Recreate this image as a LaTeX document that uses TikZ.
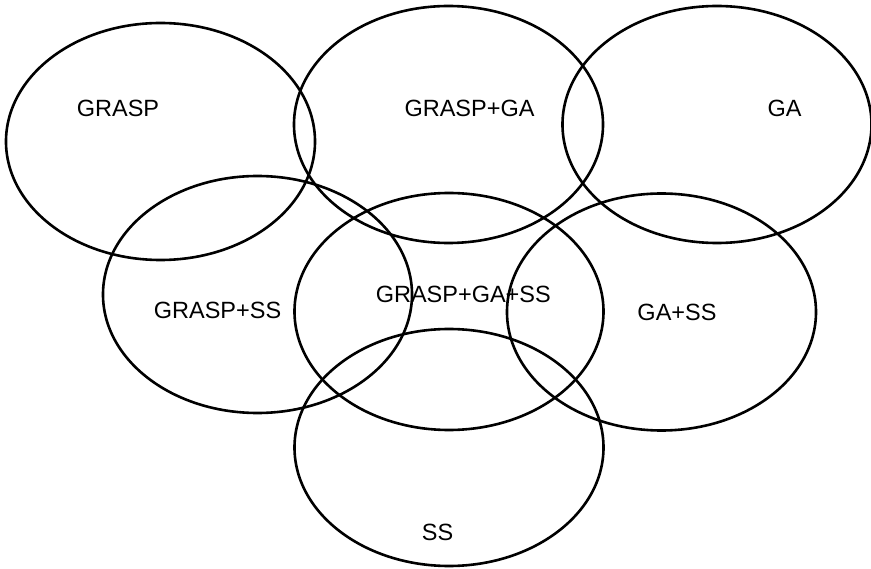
\documentclass[tikz,border=0pt]{standalone}
\usepackage{fontspec}
\setmainfont{Liberation Sans}
\usetikzlibrary{shapes.geometric}
\begin{document}
\begin{tikzpicture}[x=1pt,y=-1pt,
  setshape/.style={draw=black, line width=2.6pt, ellipse, inner sep=0pt,
    minimum width=309pt, minimum height=237pt},
  setlabel/.style={anchor=base, inner sep=0pt, font=\fontsize{23.5}{27}\selectfont}]
\useasboundingbox (0,0) rectangle (871,569);
\node[setshape] (e1) at (160.5,141.5) {};
\node[setshape] (e2) at (448.5,124.5) {};
\node[setshape] (e3) at (717,124.5) {};
\node[setshape] (e4) at (257.5,294.5) {};
\node[setshape] (e5) at (449,311.5) {};
\node[setshape] (e6) at (661.5,312) {};
\node[setshape] (e7) at (449,447.5) {};
\node[setlabel] (t1) at (118,116.7) {GRASP};
\node[setlabel] (t2) at (469.5,117) {GRASP+GA};
\node[setlabel] (t3) at (784.5,117) {GA};
\node[setlabel] (t4) at (217.5,319) {GRASP+SS};
\node[setlabel] (t5) at (463.3,302.3) {GRASP+GA+SS};
\node[setlabel] (t6) at (677,321) {GA+SS};
\node[setlabel] (t7) at (437.5,540) {SS};
\end{tikzpicture}
\end{document}
